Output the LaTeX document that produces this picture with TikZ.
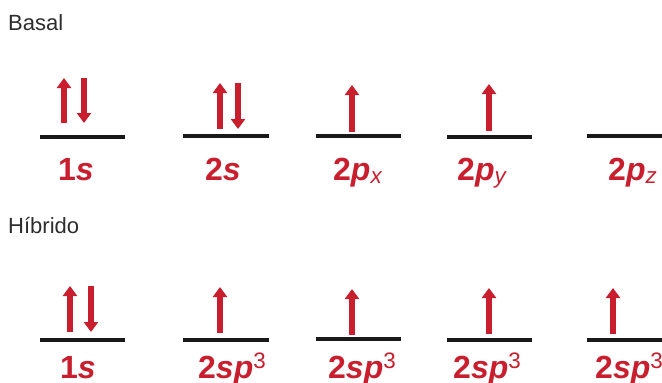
\documentclass[tikz,border=0pt]{standalone}
\usepackage{fontspec}
\setmainfont{Liberation Sans}
\definecolor{orbred}{RGB}{200,30,45}
\definecolor{txtgray}{RGB}{45,45,45}
\usetikzlibrary{arrows.meta}

\begin{document}
\begin{tikzpicture}[x=1pt,y=-1pt]
    \tikzset{level/.style={line width=3.5pt, draw=black!90},
      spin/.style={draw=orbred, line width=6pt, -{Triangle[width=14pt,length=10pt]}},
      orblabel/.style={anchor=base west, inner sep=0pt, text=orbred,
        font=\fontsize{32}{32}\selectfont\bfseries},
      rowtitle/.style={anchor=base west, inner sep=0pt, text=txtgray,
        font=\fontsize{22}{22}\selectfont}}
    \clip (0,0) rectangle (662,383);

    % Basal
    \node[rowtitle] (basal) at (8,30) {Basal};

    % 1s
    \draw[level] (40,137) -- (125,137);
    \draw[spin] (64,123) -- (64,78);
    \draw[spin] (84,78) -- (84,123);
    \node[orblabel] (b1s) at (58,180) {1\textit{s}};

    % 2s
    \draw[level] (183,136) -- (269,136);
    \draw[spin] (220,129) -- (220,83);
    \draw[spin] (238,83) -- (238,129);
    \node[orblabel] (b2s) at (205,180) {2\textit{s}};

    % 2px
    \draw[level] (316,136) -- (401,136);
    \draw[spin] (352,132) -- (352,85);
    \node[orblabel] (b2px) at (333,180) {2\textit{p}\textsubscript{\mdseries\itshape x}};

    % 2py
    \draw[level] (447,137) -- (532,137);
    \draw[spin] (489,131) -- (489,84);
    \node[orblabel] (b2py) at (457,180) {2\textit{p}\textsubscript{\mdseries\itshape y}};

    % 2pz
    \draw[level] (587,136) -- (672,136);
    \node[orblabel] (b2pz) at (608,180) {2\textit{p}\textsubscript{\mdseries\itshape z}};

    % Hibrido
    \node[rowtitle] (hibrido) at (8,233) {Híbrido};

    % 1s
    \draw[level] (40,340) -- (125,340);
    \draw[spin] (70,332) -- (70,286);
    \draw[spin] (91,286) -- (91,332);
    \node[orblabel] (h1s) at (60,378) {1\textit{s}};

    % 2sp3 (1)
    \draw[level] (183,340) -- (269,340);
    \draw[spin] (220,333) -- (220,287);
    \node[orblabel] (hsp1) at (198,378) {2\textit{sp}\textsuperscript{\mdseries 3}};

    % 2sp3 (2)
    \draw[level] (316,339) -- (401,339);
    \draw[spin] (352,335) -- (352,289);
    \node[orblabel] (hsp2) at (328,378) {2\textit{sp}\textsuperscript{\mdseries 3}};

    % 2sp3 (3)
    \draw[level] (447,340) -- (532,340);
    \draw[spin] (489,334) -- (489,288);
    \node[orblabel] (hsp3) at (453,378) {2\textit{sp}\textsuperscript{\mdseries 3}};

    % 2sp3 (4)
    \draw[level] (587,340) -- (672,340);
    \draw[spin] (613,334) -- (613,288);
    \node[orblabel] (hsp4) at (595,378) {2\textit{sp}\textsuperscript{\mdseries 3}};
  \end{tikzpicture}
\end{document}
